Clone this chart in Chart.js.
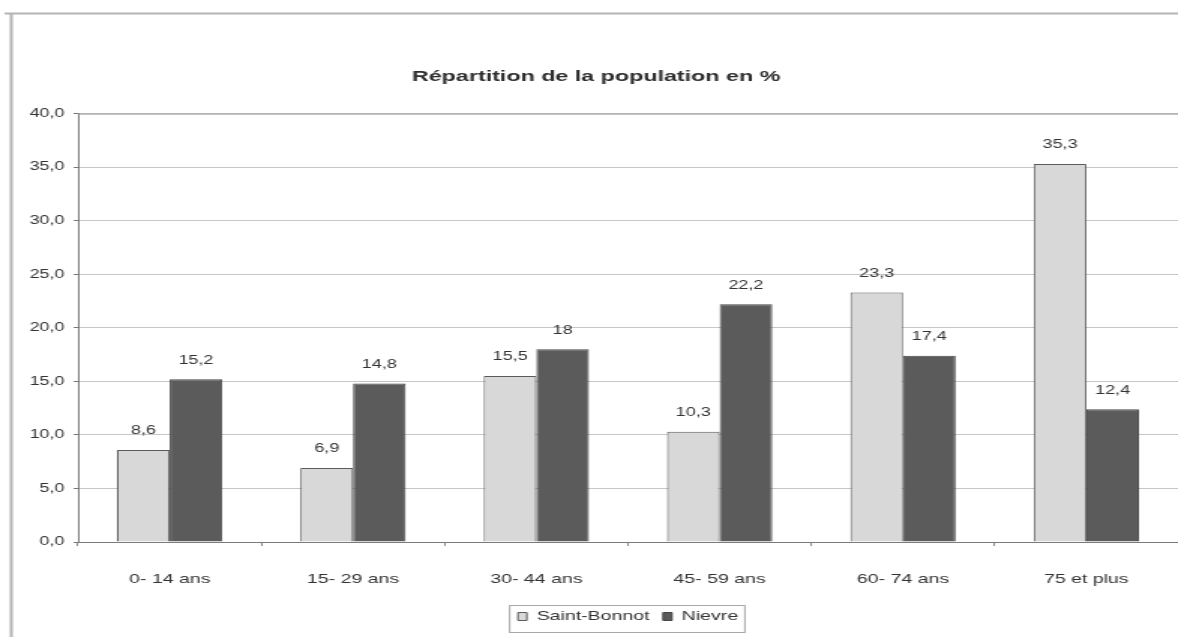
<!DOCTYPE html>
<html lang="fr">
<head>
<meta charset="utf-8">
<title>Répartition de la population en %</title>
<script src="https://cdn.jsdelivr.net/npm/chart.js@4.4.1/dist/chart.umd.min.js"></script>
<style>
  html, body { margin: 0; padding: 0; background: #fff; overflow: hidden; }
  /* the chart is drawn narrow and widened, giving the broad lettering of the original sheet */
  #wrap { width: 785px; height: 637px; transform: scaleX(1.5006); transform-origin: 0 0; }
</style>
</head>
<body>
<div id="wrap"><canvas id="chart"></canvas></div>
<script>
const categories = ['0- 14 ans', '15- 29 ans', '30- 44 ans', '45- 59 ans', '60- 74 ans', '75 et plus'];
const saintBonnot = [8.6, 6.9, 15.5, 10.3, 23.3, 35.3];
const nievre = [15.2, 14.8, 18, 22.2, 17.4, 12.4];
const seriesNames = ['Saint-Bonnot', 'Nievre'];
const yTicks = { min: 0, max: 40, step: 5 };

const FONT = '"Liberation Sans", Arial, sans-serif';
const frText = v => String(v).replace('.', ',');

// Sheet frame, plot border, value labels and the box round the legend
const decorations = {
  id: 'decorations',
  beforeDraw(chart) {
    const ctx = chart.ctx;
    ctx.save();
    ctx.fillStyle = '#fff';
    ctx.fillRect(0, 0, chart.width, chart.height);
    ctx.strokeStyle = '#b4b4b4';
    ctx.lineWidth = 2;
    ctx.beginPath();
    ctx.moveTo(3, 13.5);
    ctx.lineTo(chart.width, 13.5);
    ctx.moveTo(7.5, 13.5);
    ctx.lineTo(7.5, chart.height);
    ctx.stroke();
    ctx.restore();
  },
  afterDatasetsDraw(chart) {
    const ctx = chart.ctx;
    const a = chart.chartArea;
    ctx.save();
    ctx.strokeStyle = '#9a9a9a';
    ctx.lineWidth = 1;
    ctx.beginPath();
    ctx.moveTo(a.left, a.top + 0.5);
    ctx.lineTo(a.right + 0.5, a.top + 0.5);
    ctx.lineTo(a.right + 0.5, a.bottom);
    ctx.stroke();

    ctx.font = '12px ' + FONT;
    ctx.fillStyle = '#333';
    ctx.textAlign = 'center';
    ctx.textBaseline = 'middle';
    chart.data.datasets.forEach((ds, i) => {
      chart.getDatasetMeta(i).data.forEach((bar, j) => {
        ctx.fillText(frText(ds.data[j]), bar.x, bar.y - 19);
      });
    });
    ctx.restore();
  },
  afterDraw(chart) {
    const lg = chart.legend;
    if (!lg || !lg.legendHitBoxes.length) return;
    const boxes = lg.legendHitBoxes;
    const first = boxes[0], last = boxes[boxes.length - 1];
    const ctx = chart.ctx;
    ctx.save();
    ctx.strokeStyle = '#a8a8a8';
    ctx.lineWidth = 1;
    ctx.strokeRect(first.left - 5.5, lg.top + 4.5, last.left + last.width - first.left + 10, lg.bottom - lg.top - 5);
    ctx.restore();
  }
};

new Chart(document.getElementById('chart'), {
  type: 'bar',
  data: {
    labels: categories,
    datasets: [
      {
        label: seriesNames[0],
        data: saintBonnot,
        backgroundColor: '#d8d8d8',
        borderColor: '#5a5a5a',
        borderWidth: 1,
        categoryPercentage: 0.574,
        barPercentage: 1
      },
      {
        label: seriesNames[1],
        data: nievre,
        backgroundColor: '#5b5b5b',
        borderColor: '#454545',
        borderWidth: 1,
        categoryPercentage: 0.574,
        barPercentage: 1
      }
    ]
  },
  options: {
    responsive: true,
    maintainAspectRatio: false,
    animation: false,
    layout: { padding: { left: 8, right: -1.5, top: 0, bottom: 4 } },
    plugins: {
      title: {
        display: true,
        text: 'Répartition de la population en %',
        color: '#2e2e2e',
        font: { family: FONT, size: 15.5, weight: 'bold' },
        padding: { top: 67, bottom: 28 }
      },
      legend: {
        display: true,
        position: 'bottom',
        fullSize: false,
        labels: {
          color: '#333',
          font: { family: FONT, size: 13 },
          boxWidth: 6,
          boxHeight: 8,
          padding: 9
        }
      },
      tooltip: { enabled: false }
    },
    scales: {
      x: {
        afterFit(scale) { scale.height = 59; },
        grid: { display: true, drawOnChartArea: false, drawTicks: true, tickLength: 4, offset: true, tickColor: '#888' },
        border: { display: true, color: '#7a7a7a', width: 1 },
        ticks: { color: '#333', font: { family: FONT, size: 13 }, padding: 26 }
      },
      y: {
        min: yTicks.min,
        max: yTicks.max,
        afterFit(scale) { scale.width = 44; },
        grid: { color: '#c6c6c6', tickColor: '#7a7a7a', tickLength: 3, drawTicks: true },
        border: { display: true, color: '#7a7a7a', width: 1 },
        ticks: {
          stepSize: yTicks.step,
          color: '#333',
          font: { family: FONT, size: 12 },
          padding: 6,
          callback: v => v.toFixed(1).replace('.', ',')
        }
      }
    }
  },
  plugins: [decorations]
});
</script>
</body>
</html>
